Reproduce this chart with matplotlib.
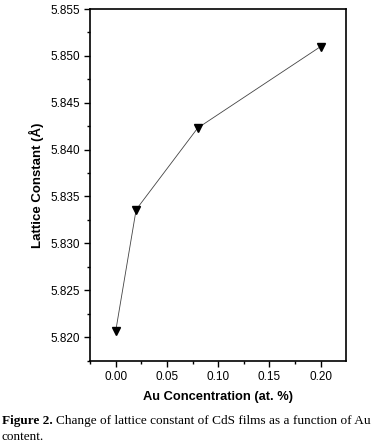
import matplotlib
matplotlib.use("Agg")
import matplotlib.pyplot as plt
from matplotlib.ticker import MultipleLocator

# data
au_conc = [0.0, 0.02, 0.08, 0.20]
lattice_const = [5.8206, 5.8336, 5.8423, 5.8510]

x_ticks = [0.00, 0.05, 0.10, 0.15, 0.20]
y_ticks = [5.820, 5.825, 5.830, 5.835, 5.840, 5.845, 5.850, 5.855]

plt.rcParams['font.family'] = ['Liberation Sans', 'DejaVu Sans']

fig = plt.figure(figsize=(3.86, 4.46), dpi=100)
ax = fig.add_axes([0.2332, 0.1906, 0.6632, 0.7892])

ax.plot(au_conc, lattice_const, color='#444444', lw=0.6,
        marker='v', markersize=6, markerfacecolor='black', markeredgecolor='black')

ax.set_xlim(-0.025, 0.2247)
ax.set_ylim(5.81745, 5.855)
ax.set_xticks(x_ticks)
ax.set_xticklabels([f"{v:.2f}" for v in x_ticks])
ax.set_yticks(y_ticks)
ax.set_yticklabels([f"{v:.3f}" for v in y_ticks])
ax.xaxis.set_minor_locator(MultipleLocator(0.025))
ax.yaxis.set_minor_locator(MultipleLocator(0.0025))

ax.tick_params(which='major', direction='out', length=4, width=1, labelsize=8.5, pad=3)
ax.tick_params(which='minor', direction='out', length=2.5, width=1)
for s in ax.spines.values():
    s.set_linewidth(1.2)

ax.set_xlabel('Au Concentration (at. %)', fontsize=9.3, fontweight='bold', labelpad=6)
ax.set_ylabel('Lattice Constant (Å)', fontsize=9.5, fontweight='bold', labelpad=5)

# caption under the chart
serif = ['Liberation Serif', 'DejaVu Serif']
t1 = fig.text(2 / 386, 1 - 421 / 446, 'Figure 2.', family=serif, fontsize=9.5,
              fontweight='bold', va='center', ha='left')
fig.canvas.draw()
bb = t1.get_window_extent()
fig.text(bb.x1 / 386 + 0.008, 1 - 421 / 446,
         'Change of lattice constant of CdS films as a function of Au',
         family=serif, fontsize=9.5, va='center', ha='left')
fig.text(2 / 386, 1 - 437 / 446, 'content.', family=serif, fontsize=9.5,
         va='center', ha='left')

fig.savefig('out.png', dpi=100, facecolor='white')
